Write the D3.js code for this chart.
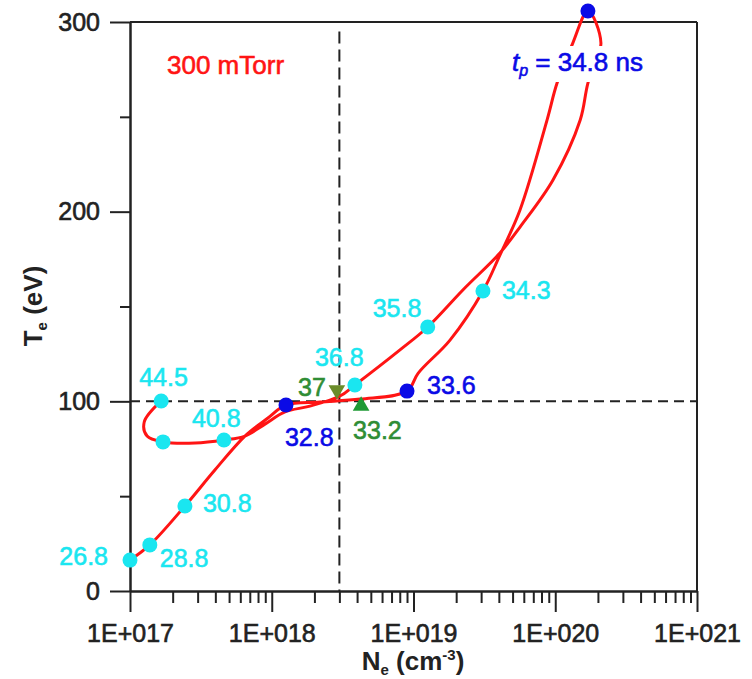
<!DOCTYPE html>
<html>
<head>
<meta charset="utf-8">
<script src="https://cdn.jsdelivr.net/npm/d3@7"></script>
<style>
  body { margin: 0; background: #fff; }
  text { font-family: "Liberation Sans", Arial, sans-serif; }
</style>
</head>
<body>
<svg id="chart" width="752" height="679"></svg>
<script>
// ---- Data -------------------------------------------------------------
// Red trajectory of the plasma state in time order: Ne (cm^-3), Te (eV)
const pathNe = [1.0e17, 1.38e17, 2.44e17, 3.97e17, 6.47e17, 9.4e17, 1.26e18, 2.19e18, 4.2e18, 9.0e18,
                1.08e19, 1.81e19, 3.09e19, 4.07e19, 5.64e19, 8.75e19, 1.03e20, 1.33e20, 1.70e20,
                2.10e20, 1.70e20, 1.50e20, 9.64e19, 5.64e19, 4.07e19, 2.23e19, 1.26e19, 8.03e18,
                3.86e18, 3.03e18, 1.86e18, 1.24e18, 8.96e17, 6.47e17, 4.6e17, 2.88e17, 1.71e17,
                1.32e17, 1.26e17, 1.66e17];
const pathTe = [16.3, 24.3, 44.8, 63.8, 81.7, 91.2, 98.1, 99.6, 101.2, 105.4,
                114.9, 132.3, 158.2, 177.1, 200.9, 248.3, 267.8, 288.9, 305.8,
                288.9, 267.8, 248.3, 216.7, 191.9, 178.2, 158.7, 139.2, 127.1,
                108.6, 102.8, 97.5, 94.4, 88.0, 81.7, 79.6, 78.0, 78.6,
                81.7, 89.1, 100.2];

// Cyan time markers (ns)
const cyanNe     = [1.0e17, 1.38e17, 2.44e17, 3.09e19, 1.26e19, 3.86e18, 4.6e17, 1.71e17, 1.66e17];
const cyanTe     = [16.3, 24.3, 44.8, 158.2, 139.2, 108.6, 79.6, 78.6, 100.2];
const cyanLabels = ["26.8", "28.8", "30.8", "34.3", "35.8", "36.8", "40.8", "", "44.5"];

// Blue time markers (ns)
const blueNe     = [1.26e18, 9.0e18, 1.70e20];
const blueTe     = [98.1, 105.4, 305.8];
const blueLabels = ["32.8", "33.6", "34.8"];

// Green triangle markers (ns)
const greenNe     = [2.88e18, 4.27e18];
const greenTe     = [106.0, 97.6];
const greenLabels = ["37", "33.2"];
const greenDir    = ["down", "up"];

// Axis ticks
const xMajorTicks = [1e17, 1e18, 1e19, 1e20, 1e21];
const xTickLabels = ["1E+017", "1E+018", "1E+019", "1E+020", "1E+021"];
const yMajorTicks = [0, 100, 200, 300];
const yTickLabels = ["0", "100", "200", "300"];
const yMinorTicks = [50, 150, 250];

// Reference lines
const refTe = 100;
const refNe = 3e18;

// ---- Layout -----------------------------------------------------------
const svg = d3.select("#chart");
const x = d3.scaleLog().domain([1e17, 1e21]).range([130, 697]);
const y = d3.scaleLinear().domain([0, 300]).range([591, 22]);

const axisColor = "#222";
const red = "#ff1414", cyan = "#1ae6f0", blue = "#0a0ae6", greenText = "#2f8d35";

// heavier outline for regular-weight labels
function heavy(sel, color) {
  return sel.attr("stroke", color).attr("stroke-width", 0.6).attr("paint-order", "stroke");
}

// minor x ticks: 2..9 per decade
const xMinorTicks = [];
for (let k = 0; k < xMajorTicks.length - 1; k++)
  for (let m = 2; m <= 9; m++) xMinorTicks.push(xMajorTicks[k] * m);

// ---- Axes -------------------------------------------------------------
const gx = svg.append("g").attr("transform", `translate(0,${y(0)})`);
gx.append("g").call(d3.axisBottom(x).tickValues(xMinorTicks).tickSize(12).tickSizeOuter(0).tickFormat(""));
gx.append("g").call(d3.axisBottom(x).tickValues(xMajorTicks).tickSize(21).tickSizeOuter(0).tickPadding(12)
  .tickFormat((d, i) => xTickLabels[i]));

const gy = svg.append("g").attr("transform", `translate(${x(1e17)},0)`);
gy.append("g").call(d3.axisLeft(y).tickValues(yMinorTicks).tickSize(10).tickSizeOuter(0).tickFormat(""));
gy.append("g").call(d3.axisLeft(y).tickValues(yMajorTicks).tickSize(20).tickSizeOuter(0).tickPadding(10)
  .tickFormat((d, i) => yTickLabels[i]));

svg.selectAll(".domain, .tick line").attr("stroke", axisColor).attr("stroke-width", 2);
heavy(svg.selectAll(".tick text").attr("fill", axisColor).style("font-size", "25px")
  .style("font-family", "'Liberation Sans', Arial, sans-serif"), axisColor);

// top and right frame
svg.append("line").attr("x1", x(1e17)).attr("x2", x(1e21)).attr("y1", y(300)).attr("y2", y(300))
  .attr("stroke", axisColor).attr("stroke-width", 2);
svg.append("line").attr("x1", x(1e21)).attr("x2", x(1e21)).attr("y1", y(300)).attr("y2", y(0))
  .attr("stroke", axisColor).attr("stroke-width", 2);

// axis titles
const xt = svg.append("text").attr("x", 413).attr("y", 670).attr("text-anchor", "middle")
  .attr("fill", axisColor).style("font-size", "26px").style("font-weight", "bold");
xt.append("tspan").text("N");
xt.append("tspan").attr("dy", 5).style("font-size", "15px").text("e");
xt.append("tspan").attr("dy", -5).text(" (cm");
xt.append("tspan").attr("dy", -10).style("font-size", "15px").text("-3");
xt.append("tspan").attr("dy", 10).text(")");

const yt = svg.append("text").attr("transform", "translate(42,306) rotate(-90)").attr("text-anchor", "middle")
  .attr("fill", axisColor).style("font-size", "26px").style("font-weight", "bold");
yt.append("tspan").text("T");
yt.append("tspan").attr("dy", 5).style("font-size", "15px").text("e");
yt.append("tspan").attr("dy", -5).text(" (eV)");

// ---- Reference dashed lines -------------------------------------------
svg.append("line").attr("x1", x(1e17)).attr("x2", x(1e21)).attr("y1", y(refTe)).attr("y2", y(refTe))
  .attr("stroke", axisColor).attr("stroke-width", 2).attr("stroke-dasharray", "10,6");
svg.append("line").attr("x1", x(refNe)).attr("x2", x(refNe)).attr("y1", y(295)).attr("y2", y(0))
  .attr("stroke", axisColor).attr("stroke-width", 2).attr("stroke-dasharray", "12,6");

// ---- Trajectory ---------------------------------------------------------
const line = d3.line().x(d => x(d[0])).y(d => y(d[1])).curve(d3.curveCatmullRom.alpha(0.5));
svg.append("path").datum(pathNe.map((n, i) => [n, pathTe[i]]))
  .attr("d", line).attr("fill", "none").attr("stroke", red).attr("stroke-width", 3)
  .attr("stroke-linejoin", "round");

// ---- Text annotations --------------------------------------------------
heavy(svg.append("text").attr("x", 167).attr("y", 74).attr("fill", red).style("font-size", "26px")
  .text("300 mTorr"), red);

// label offsets relative to each marker: [dx, dy, anchor]
const cyanOffsets = [[-22, -4, "end"], [10, 13, "start"], [18, -3, "start"], [19, -1, "start"],
                     [-55, -19, "start"], [-40, -28, "start"], [-32, -22, "start"], [0, 0, "start"], [-22, -24, "start"]];
const blueOffsets = [[-1, 32, "start"], [20, -6, "start"], [0, 0, "start"]];
const greenOffsets = [[-11, -3, "end"], [-8, 24, "start"]];

// peak label with white backing
const peakX = x(blueNe[2]), peakY = y(blueTe[2]);
svg.append("rect").attr("x", peakX - 80).attr("y", peakY + 35).attr("width", 148).attr("height", 36).attr("fill", "#fff");
const tp = heavy(svg.append("text").attr("x", peakX - 76).attr("y", peakY + 60).attr("fill", blue)
  .style("font-size", "26px"), blue);
tp.append("tspan").style("font-style", "italic").text("t");
tp.append("tspan").attr("dy", 5).style("font-style", "italic").style("font-size", "16px").text("p");
tp.append("tspan").attr("dy", -5).text(" = " + blueLabels[2] + " ns");

// ---- Markers ------------------------------------------------------------
cyanNe.forEach((n, i) => {
  svg.append("circle").attr("cx", x(n)).attr("cy", y(cyanTe[i])).attr("r", 7.5).attr("fill", cyan);
  if (cyanLabels[i]) {
    const o = cyanOffsets[i];
    heavy(svg.append("text").attr("x", x(n) + o[0]).attr("y", y(cyanTe[i]) + o[1]).attr("dy", "0.35em")
      .attr("text-anchor", o[2]).attr("fill", cyan).style("font-size", "25px").text(cyanLabels[i]), cyan);
  }
});

blueNe.forEach((n, i) => {
  svg.append("circle").attr("cx", x(n)).attr("cy", y(blueTe[i])).attr("r", 7.5).attr("fill", blue);
  if (i < 2) {
    const o = blueOffsets[i];
    heavy(svg.append("text").attr("x", x(n) + o[0]).attr("y", y(blueTe[i]) + o[1]).attr("dy", "0.35em")
      .attr("text-anchor", o[2]).attr("fill", blue).style("font-size", "25px").text(blueLabels[i]), blue);
  }
});

const tri = d3.symbol().type(d3.symbolTriangle).size(120);
greenNe.forEach((n, i) => {
  const down = greenDir[i] === "down";
  svg.append("path").attr("d", tri)
    .attr("transform", `translate(${x(n)},${y(greenTe[i])}) rotate(${down ? 180 : 0})`)
    .attr("fill", down ? "#6b8c2a" : "#1f9a35");
  const o = greenOffsets[i];
  heavy(svg.append("text").attr("x", x(n) + o[0]).attr("y", y(greenTe[i]) + o[1]).attr("dy", "0.35em")
    .attr("text-anchor", o[2]).attr("fill", greenText).style("font-size", "25px").text(greenLabels[i]), greenText);
});
</script>
</body>
</html>
